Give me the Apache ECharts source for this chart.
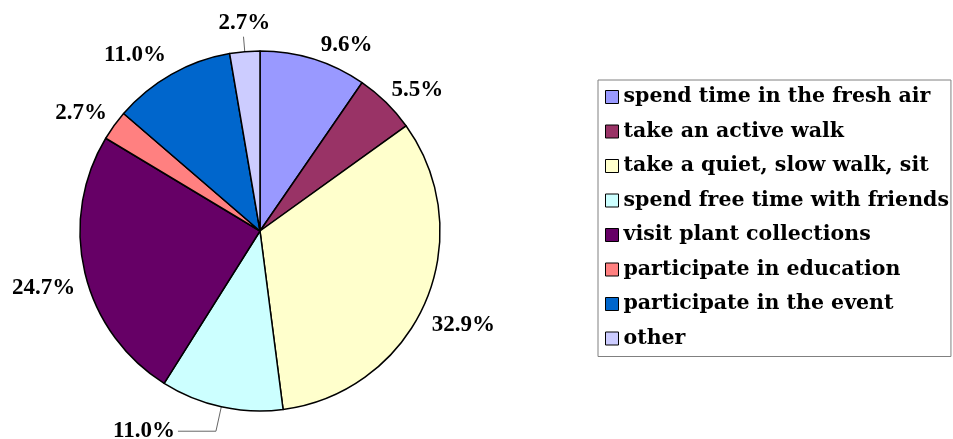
<!DOCTYPE html>
<html>
<head>
<meta charset="utf-8">
<script src="https://cdn.jsdelivr.net/npm/echarts@6/dist/echarts.min.js"></script>
<style>
html,body{margin:0;padding:0;background:#fff;}
#c{width:953px;height:439px;}
</style>
</head>
<body>
<div id="c"></div>
<script>
var categories = [
  'spend time in the fresh air',
  'take an active walk',
  'take a quiet, slow walk, sit',
  'spend free time with friends',
  'visit plant collections',
  'participate in education',
  'participate in the event',
  'other'
];
var values = [9.6, 5.5, 32.9, 11.0, 24.7, 2.7, 11.0, 2.7];
var colors = ['#9999FF', '#993366', '#FFFFCC', '#CCFFFF', '#660066', '#FF8080', '#0066CC', '#CCCCFF'];
var lineShown = [false, false, false, true, false, false, false, true];

var FONT = '"Liberation Serif", "Times New Roman", serif';
var LEGEND_FONT = '"DejaVu Serif", serif';

var data = categories.map(function (name, i) {
  var item = { name: name, value: values[i], itemStyle: { color: colors[i] } };
  if (lineShown[i]) {
    item.labelLine = { show: true };
    if (i === 3) { item.labelLine.length = 25; item.labelLine.length2 = 38; }
  } else {
    item.labelLine = { show: false };
  }
  return item;
});

var chart = echarts.init(document.getElementById('c'), null, { renderer: 'canvas' });
chart.setOption({
  backgroundColor: '#ffffff',
  animation: false,
  legend: {
    orient: 'vertical',
    left: 598,
    top: 80,
    padding: [6, 2, 7, 7],
    itemWidth: 13,
    itemHeight: 13,
    itemGap: 12.5,
    icon: 'rect',
    borderColor: '#808080',
    borderWidth: 1,
    selectedMode: false,
    itemStyle: { borderColor: '#000', borderWidth: 1 },
    textStyle: {
      fontFamily: LEGEND_FONT,
      fontWeight: 'bold',
      fontSize: 20.5,
      lineHeight: 22,
      color: '#000'
    },
    data: categories
  },
  series: [{
    type: 'pie',
    center: [260, 231],
    radius: [0, 180],
    startAngle: 90,
    clockwise: true,
    avoidLabelOverlap: false,
    itemStyle: { borderColor: '#000', borderWidth: 1.5 },
    emphasis: { disabled: true },
    label: {
      show: true,
      position: 'outside',
      formatter: function (p) { return p.value.toFixed(1) + '%'; },
      fontFamily: FONT,
      fontWeight: 'bold',
      fontSize: 23,
      color: '#000',
      distanceToLabelLine: 3
    },
    labelLine: {
      length: 15,
      length2: 0,
      smooth: false,
      lineStyle: { color: '#666', width: 1 }
    },
    labelLayout: function (params) {
      var i = params.dataIndex;
      if (i === 7) return { align: 'center', verticalAlign: 'bottom', dx: 4, dy: -2 };
      if (i === 2) return { dx: -10, dy: 16 };
      if (i === 4) return { dx: 8, dy: 12 };
      if (i === 6) return { dx: 5, dy: -6 };
      if (i === 5) return { dx: 8, dy: -4 };
      if (i === 1) return { dx: -8, dy: -2 };
    },
    data: data
  }]
});
</script>
</body>
</html>
